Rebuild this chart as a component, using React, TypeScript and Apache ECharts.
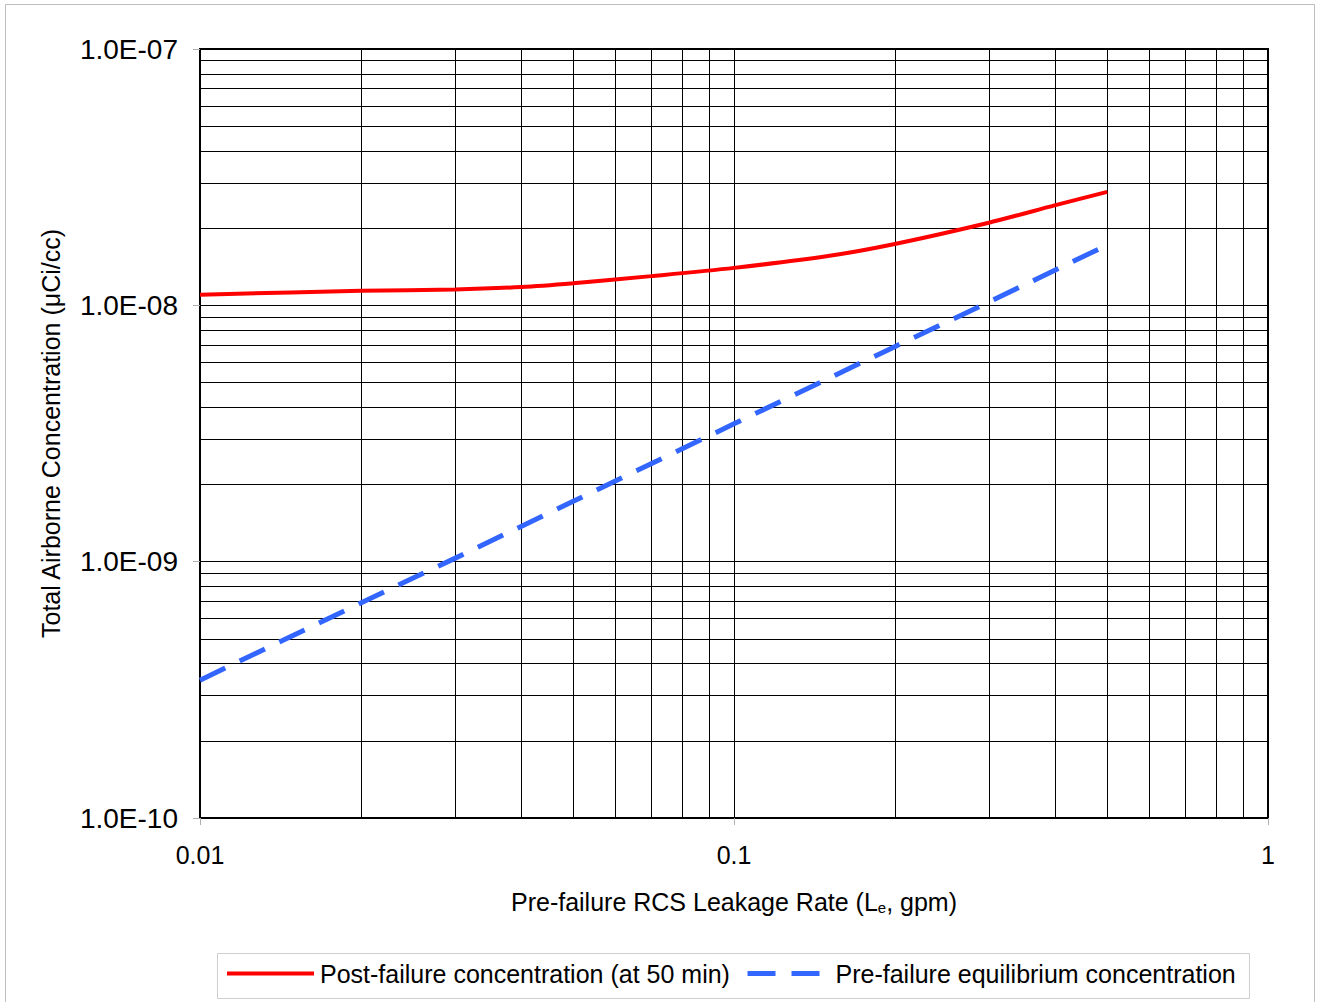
import React, { useEffect, useRef } from "react";
import * as echarts from "echarts";

const leakageRates = [0.01, 0.02, 0.03, 0.04, 0.05, 0.07, 0.1, 0.15, 0.2, 0.3, 0.4, 0.5];
const postFailure = [1.10e-8, 1.14e-8, 1.153e-8, 1.179e-8, 1.22e-8, 1.30e-8, 1.40e-8, 1.557e-8, 1.735e-8, 2.10e-8, 2.46e-8, 2.77e-8];
const preRates = [0.01, 0.02, 0.03, 0.05, 0.1, 0.2, 0.3, 0.5];
const preFailure = [3.45e-10, 6.9e-10, 1.03e-9, 1.72e-9, 3.45e-9, 6.9e-9, 1.03e-8, 1.72e-8];

const seriesNames = ["Post-failure concentration (at 50 min)", "Pre-failure equilibrium concentration"];
const xName = "Pre-failure RCS Leakage Rate (L{sub|e}, gpm)";
const yName = "Total Airborne Concentration (\u03bcCi/cc)";

const FONT = "Liberation Sans, Arial, sans-serif";
const DASH = [28, 16];

function yFmt(v: number) {
  const e = Math.round(Math.log10(v));
  const m = v / Math.pow(10, e);
  const sign = e < 0 ? "-" : "+";
  return m.toFixed(1) + "E" + sign + String(Math.abs(e)).padStart(2, "0");
}

export default function App() {
  const ref = useRef<HTMLDivElement>(null);
  useEffect(() => {
    if (!ref.current) return;
    const chart = echarts.init(ref.current, null, { renderer: "svg" });
    chart.setOption({
      animation: false,
      backgroundColor: "#fff",
      textStyle: { fontFamily: FONT },
      graphic: [
        { type: "rect", shape: { x: 5.5, y: 4.5, width: 1309, height: 1010 }, style: { fill: "none", stroke: "#bdbdbd", lineWidth: 1 }, z: -1 },
        { type: "rect", shape: { x: 217.5, y: 953.5, width: 1032, height: 45 }, style: { fill: "#fff", stroke: "#cfcfcf", lineWidth: 1 }, z: -1 },
      ],
      grid: { left: 200, right: 52, top: 49, bottom: 184, show: true, borderColor: "#000", borderWidth: 2, backgroundColor: "transparent" },
      legend: [
        {
          data: [seriesNames[0]],
          left: 225, top: 961, padding: 0,
          itemWidth: 87, itemHeight: 24,
          itemStyle: { opacity: 0 },
          lineStyle: { width: 4, color: "#ff0000" },
          textStyle: { fontSize: 25, color: "#000", fontFamily: FONT, padding: [0, 0, 0, 1] },
        },
        {
          data: [seriesNames[1]],
          left: 745, top: 961, padding: 0,
          itemWidth: 74, itemHeight: 24,
          itemStyle: { opacity: 0 },
          lineStyle: { width: 5, color: "#3366ff", type: DASH },
          textStyle: { fontSize: 25, color: "#000", fontFamily: FONT, padding: [0, 0, 0, 9] },
        },
      ],
      xAxis: {
        type: "log", logBase: 10, min: 0.01, max: 1,
        name: xName, nameLocation: "middle", nameGap: 71,
        nameTextStyle: {
          fontSize: 25, color: "#000", fontFamily: FONT,
          rich: { sub: { fontSize: 15, color: "#000", fontFamily: FONT, padding: [11, 0, 0, 0] } },
        },
        axisLine: { show: true, lineStyle: { color: "#000", width: 2 } },
        axisTick: { show: true, length: 7, lineStyle: { color: "#b0b0b0", width: 1 } },
        axisLabel: { fontSize: 25, color: "#000", margin: 24, formatter: (v: number) => String(v) },
        splitLine: { show: true, lineStyle: { color: "#000", width: 1 } },
        minorTick: { show: false, splitNumber: 9 },
        minorSplitLine: { show: true, lineStyle: { color: "#000", width: 1 } },
      },
      yAxis: {
        type: "log", logBase: 10, min: 1e-10, max: 1e-7,
        name: yName, nameLocation: "middle", nameGap: 137, nameRotate: 90,
        nameTextStyle: { fontSize: 25, color: "#000", fontFamily: FONT },
        axisLine: { show: true, lineStyle: { color: "#000", width: 2 } },
        axisTick: { show: true, length: 7, lineStyle: { color: "#b0b0b0", width: 1 } },
        axisLabel: { fontSize: 28, color: "#000", margin: 22, formatter: yFmt },
        splitLine: { show: true, lineStyle: { color: "#000", width: 1 } },
        minorTick: { show: false, splitNumber: 9 },
        minorSplitLine: { show: true, lineStyle: { color: "#000", width: 1 } },
      },
      series: [
        {
          name: seriesNames[0], type: "line", symbol: "none", smooth: 0.3,
          data: leakageRates.map((x, i) => [x, postFailure[i]]),
          lineStyle: { color: "#ff0000", width: 4 }, itemStyle: { color: "#ff0000" },
        },
        {
          name: seriesNames[1], type: "line", symbol: "none",
          data: preRates.map((x, i) => [x, preFailure[i]]),
          lineStyle: { color: "#3366ff", width: 5, type: DASH }, itemStyle: { color: "#3366ff" },
        },
      ],
    });
    return () => chart.dispose();
  }, []);
  return <div ref={ref} style={{ position: "absolute", left: 0, top: 0, width: 1320, height: 1002 }} />;
}
